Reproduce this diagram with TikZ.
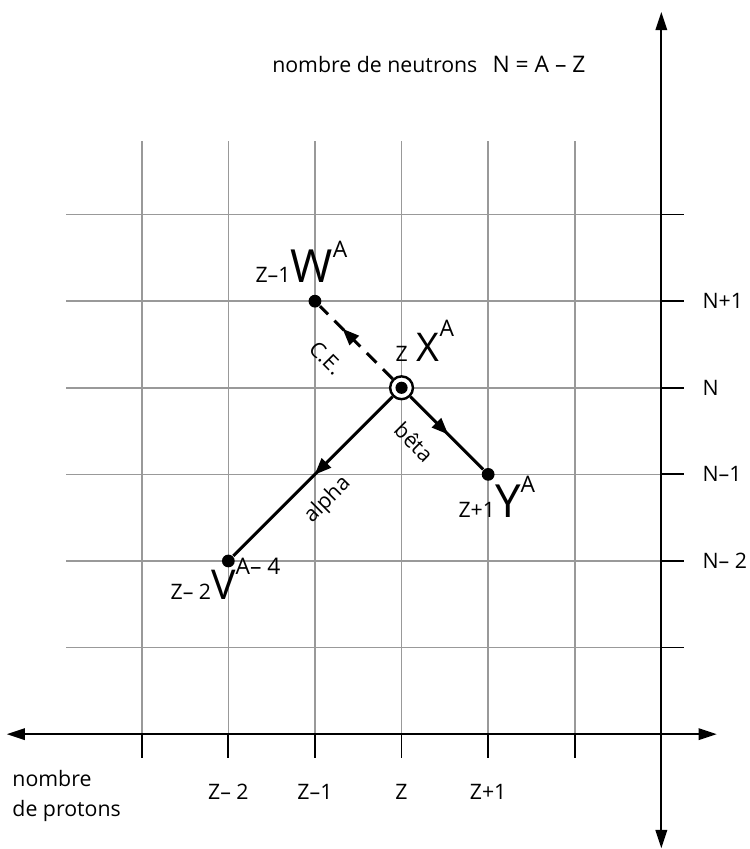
\documentclass[tikz,border=0pt]{standalone}
\usepackage{fontspec}
\setmainfont{Open Sans}
\usepackage{tikz}
\usetikzlibrary{arrows.meta, positioning, decorations.markings}

\newcommand{\nuclide}[4][15]{{\fontsize{7}{8}\selectfont #2}{\fontsize{#1}{#1}\selectfont #3}\raisebox{8.5pt}{\fontsize{7.5}{8}\selectfont #4}}

\tikzset{
  gridline/.style={black!40, line width=0.5pt},
  axis/.style={line width=0.6pt, {Triangle[length=6pt,width=3.8pt]}-{Triangle[length=6pt,width=3.8pt]}},
  tick/.style={line width=0.6pt},
  lab/.style={font=\fontsize{7}{10}\selectfont, inner sep=0pt},
  dot/.style={circle, fill, inner sep=0pt, minimum size=4.2pt},
  ring/.style={circle, draw, line width=0.8pt, fill=white, inner sep=0pt, minimum size=7.5pt,
    path picture={\fill[black] (path picture bounding box.center) circle (2pt);}},
  decay/.style={line width=1pt, postaction={decorate},
    decoration={markings, mark=at position #1 with {\arrow{Triangle[length=5.5pt,width=4.2pt]}}}},
}

\begin{document}
\begin{tikzpicture}
  \useasboundingbox (-7.637,-1.326) rectangle (1.023,8.478);

  % grille
  \draw[gridline, step=1] (-6.87,0) grid (0,6.85);

  % axes
  \coordinate (left) at (-7.56,0);
  \coordinate (right) at (0.64,0);
  \coordinate (bottom) at (0,-1.317);
  \coordinate (top) at (0,8.34);
  \draw[axis] (left) -- (right);
  \draw[axis] (bottom) -- (top);
  \foreach \k in {1,...,6} {
    \draw[tick] (-\k,0) -- (-\k,-0.28);
    \draw[tick] (0,\k) -- (0.26,\k);
  }

  % graduations
  \node[lab, anchor=west] (n1) at (0.47,5) {N+1};
  \node[lab, anchor=west] (n0) at (0.47,4) {N};
  \node[lab, anchor=west] (nm1) at (0.47,3) {N–1};
  \node[lab, anchor=west] (nm2) at (0.47,2) {N– 2};
  \node[lab, anchor=base] (zm2) at (-5,-0.757) {Z– 2};
  \node[lab, anchor=base] (zm1) at (-4,-0.757) {Z–1};
  \node[lab, anchor=base] (z0) at (-3,-0.757) {Z};
  \node[lab, anchor=base] (z1) at (-2,-0.757) {Z+1};
  \node[lab, anchor=base west] (ntitle) at (-4.5,7.635)
    {nombre de neutrons\hspace{5pt}{\fontsize{7.5}{9}\selectfont N = A – Z}};
  \node[lab, anchor=north west, align=left] (ztitle) at (-7.5,-0.41) {nombre\\de protons};

  % noyaux
  \node[dot] (W) at (-4,5) {};
  \node[ring] (X) at (-3,4) {};
  \node[dot] (Y) at (-2,3) {};
  \node[dot] (V) at (-5,2) {};

  \draw[decay=0.49] (X) -- (V);
  \draw[decay=0.52] (X) -- (Y);
  \draw[decay=0.69, dash pattern=on 4.5pt off 3pt] (X) -- (W);

  \node[lab, anchor=base west] (Wlab) at (-4.693,5.21) {\nuclide{Z–1}{W}{A}};
  \node[lab, anchor=base west] (Xlab) at (-3.076,4.298) {\nuclide[13]{Z\hspace{3pt}}{X}{A}};
  \node[lab, anchor=base west] (Ylab) at (-2.349,2.497) {\nuclide{Z+1}{Y}{A}};
  \node[lab, anchor=base west] (Vlab) at (-5.674,1.55) {\nuclide[13.5]{Z– 2}{V}{A– 4}};

  \node[lab, rotate=-45] (celab) at (-3.873,4.344) {C.E.};
  \node[lab, rotate=-45] (betalab) at (-2.857,3.374) {bêta};
  \node[lab, rotate=45] (alphalab) at (-3.851,2.704) {alpha};
\end{tikzpicture}
\end{document}
